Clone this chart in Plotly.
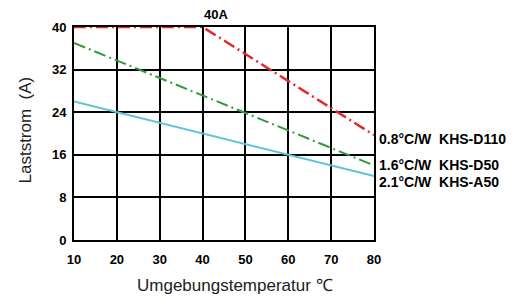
import plotly.graph_objects as go

temps_red = [10, 40, 80]
vals_red = [40, 40, 19.7]
temps_green = [10, 80]
vals_green = [37, 14]
temps_cyan = [10, 80]
vals_cyan = [26, 12]
labels = ["0.8°C/W  KHS-D110", "1.6°C/W  KHS-D50", "2.1°C/W  KHS-A50"]
label_y = [19.0, 14.1, 10.9]
x_ticks = [10, 20, 30, 40, 50, 60, 70, 80]
y_ticks = [0, 8, 16, 24, 32, 40]

FONT = "Liberation Sans, Arial"

fig = go.Figure()
fig.add_trace(go.Scatter(x=temps_red, y=vals_red, mode="lines", cliponaxis=False,
                         line=dict(color="#e8262a", width=2.5, dash="12px,4px,2px,4px")))
fig.add_trace(go.Scatter(x=temps_green, y=vals_green, mode="lines",
                         line=dict(color="#2f9a3f", width=2, dash="12px,4px,2px,4px")))
fig.add_trace(go.Scatter(x=temps_cyan, y=vals_cyan, mode="lines",
                         line=dict(color="#5cc6d6", width=2)))

for t, yv in zip(labels, label_y):
    fig.add_annotation(x=1, xref="paper", y=yv, yref="y", text=t, showarrow=False,
                       xanchor="left", yanchor="middle", xshift=3,
                       font=dict(family=FONT, size=14, color="black", weight="bold"))

fig.add_annotation(x=40, y=40, xref="x", yref="y", text="40A", showarrow=False,
                   yanchor="bottom", yshift=3, xshift=13,
                   font=dict(family=FONT, size=13, color="black", weight="bold"))

fig.add_annotation(x=0.5, xref="paper", y=-45 / 213, yref="paper", yanchor="middle",
                   text="Umgebungstemperatur ℃", showarrow=False, xshift=11,
                   font=dict(family=FONT, size=17, color="#222"))
fig.add_annotation(x=0, xref="paper", y=0.5, yref="paper", xanchor="center",
                   text="Laststrom  (A)", showarrow=False, textangle=-90, xshift=-49, yshift=3,
                   font=dict(family=FONT, size=17, color="#222"))

axis_common = dict(showgrid=True, gridcolor="black", gridwidth=2, showline=True,
                   linecolor="black", linewidth=2, mirror=True, zeroline=False,
                   tickfont=dict(family=FONT, size=13, color="black", weight="bold"),
                   ticks="", automargin=False, layer="below traces")
fig.update_xaxes(range=[10, 80], tickvals=x_ticks, ticklabelstandoff=6, **axis_common)
fig.update_yaxes(range=[0, 40], tickvals=y_ticks, ticklabelstandoff=3, **axis_common)

fig.update_layout(width=515, height=298, margin=dict(l=66, r=149, t=19, b=66),
                  plot_bgcolor="white", paper_bgcolor="white", showlegend=False)
fig.write_html("out.html")
